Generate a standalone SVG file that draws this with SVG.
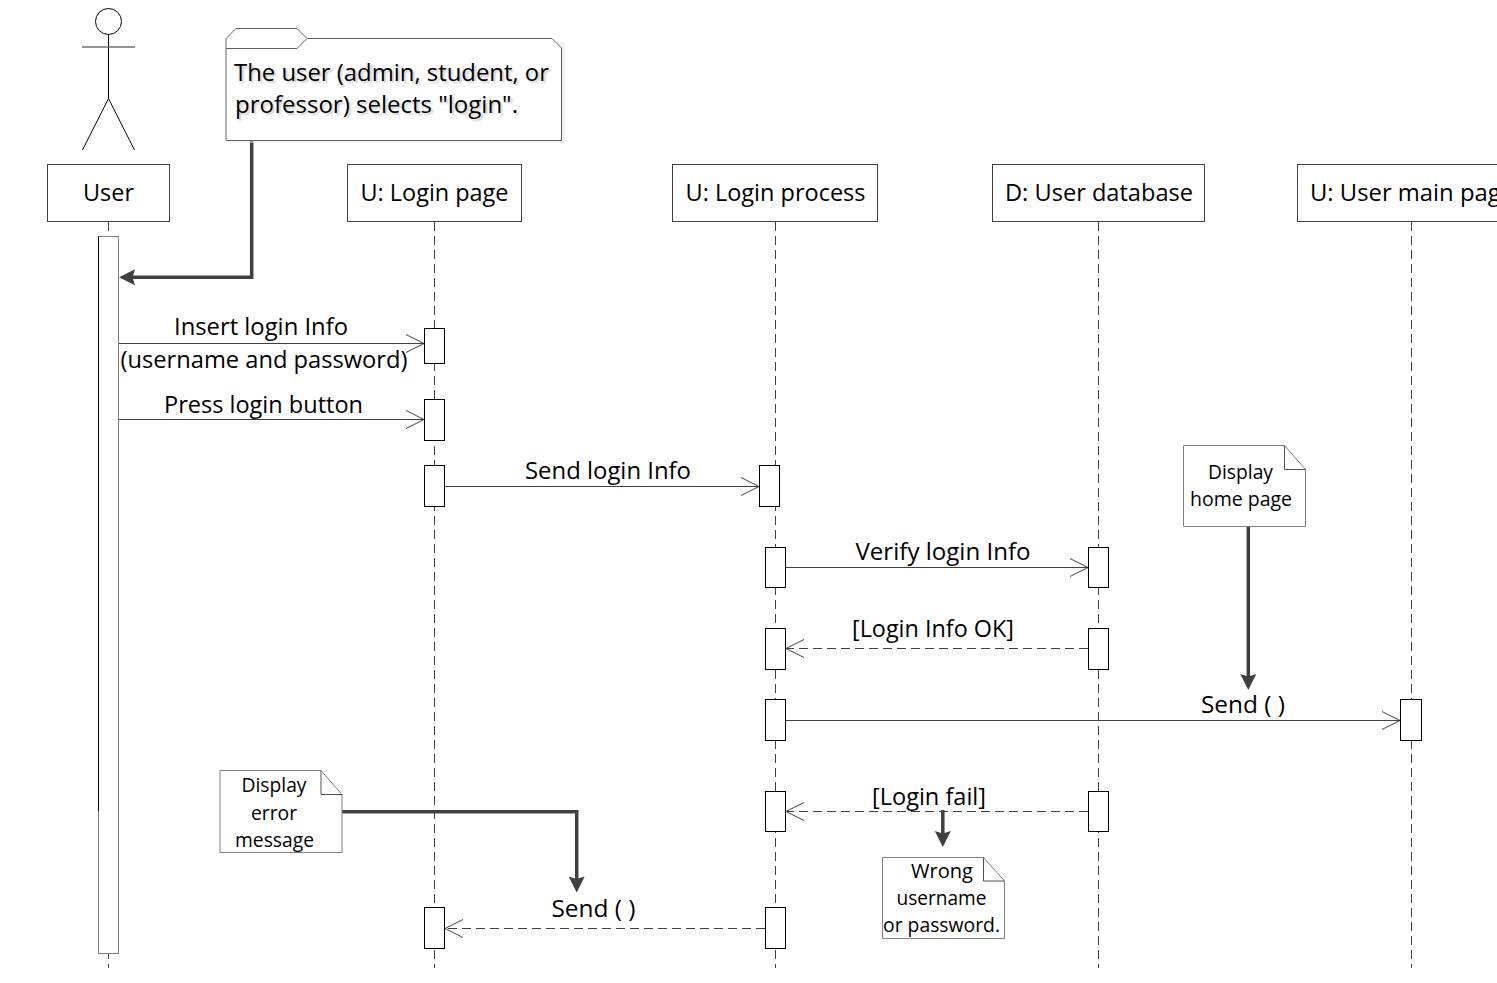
<svg xmlns="http://www.w3.org/2000/svg" width="1497" height="983" viewBox="0 0 1497 983">
<defs>
<marker id="open" markerUnits="userSpaceOnUse" markerWidth="20" markerHeight="20" refX="18" refY="9" viewBox="0 0 20 20" orient="auto" overflow="visible"><path d="M0 0L18 9L0 18" fill="none" stroke="#404040" stroke-width="1"/></marker>
</defs>
<style>
text{font-family:"Open Sans","Noto Sans","Liberation Sans",sans-serif;fill:#000;text-anchor:middle}
.mid{font-size:23px}
.sm{font-size:19.5px}
.box{fill:#fff;stroke:#404040;stroke-width:1}
.act{fill:#fff;stroke:#000;stroke-width:1}
.life{fill:none;stroke:#404040;stroke-width:1;stroke-dasharray:9 5}
.msg{fill:none;stroke:#404040;stroke-width:1;marker-end:url(#open)}
.ret{fill:none;stroke:#404040;stroke-width:1;stroke-dasharray:9 5;marker-end:url(#open)}
.thick{fill:none;stroke:#404040;stroke-width:3.500}
.head{fill:#404040;stroke:none}
.note{fill:#fff;stroke:#808080;stroke-width:1}
.fold{fill:none;stroke:#505050;stroke-width:1}
</style>

<g id="lifelines">
<path class="life" d="M108.500 222V968"/>
<path class="life" d="M434.500 222V968"/>
<path class="life" d="M775.500 222V968"/>
<path class="life" d="M1098.500 222V968"/>
<path class="life" d="M1411.500 222V968"/>
</g>

<g id="actor-figure" fill="none" stroke="#000" stroke-width="1">
<circle cx="108.500" cy="21.500" r="13"/>
<path d="M108.500 34.500V98.500"/>
<path d="M82 47H135" stroke="#707070" stroke-width="1.500"/>
<path d="M108.500 98.500L82.500 150M108.500 98.500L134.500 150"/>
</g>

<g id="node-user"><rect class="box" x="47.500" y="164.500" width="122" height="57"/><text class="mid" x="108.500" y="201" textLength="51" lengthAdjust="spacingAndGlyphs">User</text></g>
<g id="node-login-page"><rect class="box" x="347.500" y="164.500" width="174" height="57"/><text class="mid" x="434.500" y="201" textLength="148" lengthAdjust="spacingAndGlyphs">U: Login page</text></g>
<g id="node-login-process"><rect class="box" x="672.500" y="164.500" width="205" height="57"/><text class="mid" x="775.500" y="201" textLength="180" lengthAdjust="spacingAndGlyphs">U: Login process</text></g>
<g id="node-user-database"><rect class="box" x="992.500" y="164.500" width="212" height="57"/><text class="mid" x="1099" y="201" textLength="188" lengthAdjust="spacingAndGlyphs">D: User database</text></g>
<g id="node-user-main-page"><rect class="box" x="1297.500" y="164.500" width="230" height="57"/><text class="mid" x="1412" y="201" textLength="204" lengthAdjust="spacingAndGlyphs">U: User main page</text></g>

<g id="activations">
<rect x="98.500" y="236.500" width="20" height="717" fill="#fff" stroke="#808080"/>
<path d="M98.500 236.500V811" stroke="#000" fill="none"/>
<rect class="act" x="424.500" y="328.500" width="20" height="35"/>
<rect class="act" x="424.500" y="399.500" width="20" height="41"/>
<rect class="act" x="424.500" y="465.500" width="20" height="41"/>
<rect class="act" x="759.500" y="465.500" width="20" height="41"/>
<rect class="act" x="765.500" y="547.500" width="20" height="40"/>
<rect class="act" x="1088.500" y="547.500" width="20" height="40"/>
<rect class="act" x="765.500" y="628.500" width="20" height="41"/>
<rect class="act" x="1088.500" y="628.500" width="20" height="41"/>
<rect class="act" x="765.500" y="699.500" width="20" height="41"/>
<rect class="act" x="1400.500" y="699.500" width="21" height="41"/>
<rect class="act" x="765.500" y="791.500" width="20" height="40"/>
<rect class="act" x="1088.500" y="791.500" width="20" height="40"/>
<rect class="act" x="424.500" y="907.500" width="20" height="41"/>
<rect class="act" x="765.500" y="907.500" width="20" height="41"/>
</g>

<g id="connectors">
<path class="msg" d="M119 343.500H424"/>
<path class="msg" d="M119 419.500H424"/>
<path class="msg" d="M445 486.500H759"/>
<path class="msg" d="M786 567.500H1088"/>
<path class="ret" d="M1088 648.500H786"/>
<path class="msg" d="M786 720.500H1400"/>
<path class="ret" d="M1088 811.500H786"/>
<path class="ret" d="M765 928.500H445"/>
<path class="thick" d="M251.700 139V277.300H128"/><path class="head" d="M119 277.300L135 269.300L132.500 277.300L135 285.300Z"/>
<path class="thick" d="M1248.300 525V680"/><path class="head" d="M1248.300 690L1240.300 674L1248.300 676.500L1256.300 674Z"/>
<path class="thick" d="M341 811.700H576.700V882"/><path class="head" d="M576.700 892.500L568.700 876.500L576.700 879L584.700 876.500Z"/>
<path class="thick" d="M942.800 810V837"/><path class="head" d="M942.800 847L934.800 831L942.800 833.500L950.800 831Z"/>
</g>

<g id="connector-labels">
<text class="mid" x="261" y="335" textLength="174" lengthAdjust="spacingAndGlyphs">Insert login Info</text>
<text class="mid" x="264" y="368" textLength="287" lengthAdjust="spacingAndGlyphs">(username and password)</text>
<text class="mid" x="263.500" y="413" textLength="199" lengthAdjust="spacingAndGlyphs">Press login button</text>
<text class="mid" x="608" y="479" textLength="166" lengthAdjust="spacingAndGlyphs">Send login Info</text>
<text class="mid" x="943" y="560" textLength="175" lengthAdjust="spacingAndGlyphs">Verify login Info</text>
<text class="mid" x="933" y="637" textLength="162" lengthAdjust="spacingAndGlyphs">[Login Info OK]</text>
<text class="mid" x="1243" y="713" textLength="84" lengthAdjust="spacingAndGlyphs">Send ( )</text>
<text class="mid" x="929" y="805" textLength="114" lengthAdjust="spacingAndGlyphs">[Login fail]</text>
<text class="mid" x="593.500" y="917" textLength="84" lengthAdjust="spacingAndGlyphs">Send ( )</text>
</g>

<g id="note-login">
<path d="M228 143H565V42L228 42Z" fill="#e8e8e8" opacity="0.5"/>
<path d="M226 140.500V38.500L236 28.500H297L307 38.500H552L561.500 48V140.500Z" fill="#fff" stroke="#606060"/>
<path d="M226 48.500H297L307 38.500" fill="none" stroke="#606060"/>
<text class="mid" x="391.500" y="81" textLength="315" lengthAdjust="spacingAndGlyphs" style="text-shadow:2px 2px 2px #ccc">The user (admin, student, or</text>
<text class="mid" x="376.500" y="113" textLength="283" lengthAdjust="spacingAndGlyphs" style="text-shadow:2px 2px 2px #ccc">professor) selects "login".</text>
</g>

<g id="note-home-page">
<path class="note" d="M1183.500 445.500H1284.500L1305.500 469.500V526.500H1183.500Z"/>
<path class="fold" d="M1284.500 445.500V469.500H1305.500"/>
<text class="sm" x="1240.500" y="479" textLength="65" lengthAdjust="spacingAndGlyphs">Display</text>
<text class="sm" x="1241" y="506" textLength="102" lengthAdjust="spacingAndGlyphs">home page</text>
</g>

<g id="note-error">
<path class="note" d="M220 770.500H321L342 794.500V852.500H220Z"/>
<path class="fold" d="M321 770.500V794.500H342"/>
<text class="sm" x="274" y="792" textLength="65" lengthAdjust="spacingAndGlyphs">Display</text>
<text class="sm" x="274" y="820" textLength="46" lengthAdjust="spacingAndGlyphs">error</text>
<text class="sm" x="274.500" y="847" textLength="79" lengthAdjust="spacingAndGlyphs">message</text>
</g>

<g id="note-wrong">
<path class="note" d="M882.500 857.500H983.500L1004.500 881V938.500H882.500Z"/>
<path class="fold" d="M983.500 857.500V881H1004.500"/>
<text class="sm" x="942" y="878" textLength="62" lengthAdjust="spacingAndGlyphs">Wrong</text>
<text class="sm" x="941.500" y="905" textLength="90" lengthAdjust="spacingAndGlyphs">username</text>
<text class="sm" x="941.500" y="932" textLength="117" lengthAdjust="spacingAndGlyphs">or password.</text>
</g>
</svg>
